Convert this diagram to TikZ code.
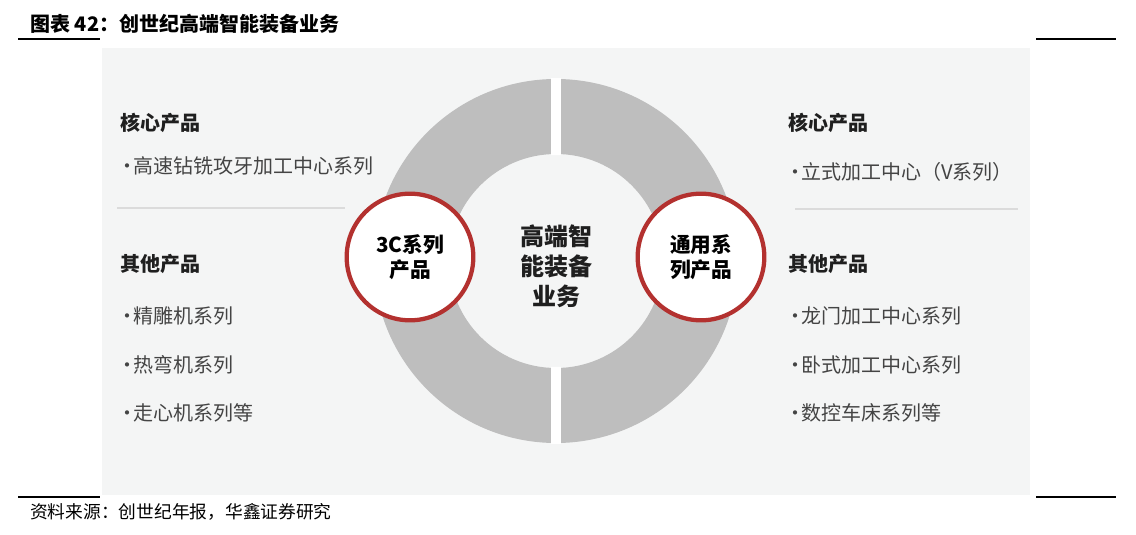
\documentclass[tikz,border=0pt]{standalone}
\usepackage{fontspec}
\setmainfont{Noto Sans CJK SC}
\usetikzlibrary{positioning}

\definecolor{panelbg}{HTML}{F4F5F5}
\definecolor{ringgray}{HTML}{BEBEBE}
\definecolor{ringred}{HTML}{B3312F}
\definecolor{itemgray}{HTML}{444444}
\newcommand{\bul}{•\kern-3pt}

\begin{document}
\begin{tikzpicture}[x=0.75pt, y=0.75pt]
    \tikzset{
        heading/.style={anchor=base west, inner xsep=0pt, font=\bfseries\fontsize{15}{18}\selectfont, text=black!88},
        item/.style={anchor=base west, inner xsep=0pt, font=\fontsize{15}{18}\selectfont, text=itemgray},
        badge/.style={circle, draw=ringred, line width=3.2pt, fill=white, minimum size=95pt, inner sep=0pt, align=center, font=\bfseries\fontsize{15.5}{18.5}\selectfont},
        sep/.style={draw=black!14, line width=0.8pt},
        frame/.style={draw=black, line width=0.8pt}
    }
    \useasboundingbox (0,0) rectangle (1136,-535);

    % title and frame lines
    \node[anchor=base west, inner xsep=0pt, font=\bfseries\fontsize{15}{18}\selectfont] (title) at (30,-32) {图表 42：创世纪高端智能装备业务};
    \draw[frame] (18,-39) -- (100,-39);
    \draw[frame] (1036,-39) -- (1116,-39);
    \draw[frame] (18,-497) -- (100,-497);
    \draw[frame] (1036,-497) -- (1116,-497);

    % panel
    \fill[panelbg] (102,-48) rectangle (1030,-495);

    % ring with gaps
    \coordinate (hub) at (556,-261);
    \fill[ringgray, even odd rule] (hub) circle (182) (hub) circle (107);
    \begin{scope}[even odd rule]
        \clip (hub) circle (183) (hub) circle (106);
        \fill[white] (551,-60) rectangle (561,-470);
    \end{scope}

    \node[align=center, font=\bfseries\fontsize{18}{22.5}\selectfont, text=black!88] (core) at (556,-266) {高端智\\能装备\\业务};
    \node[badge] (c3c) at (410,-257) {3C系列\\产品};
    \node[badge] (cgen) at (701,-257) {通用系\\列产品};

    % left column
    \node[heading] (lcore) at (120,-131) {核心产品};
    \node[item] (l1) at (117,-173) {\bul 高速钻铣攻牙加工中心系列};
    \draw[sep] (117,-208) -- (345,-208);
    \node[heading] (lother) at (120,-271) {其他产品};
    \node[item] (l2) at (117,-323) {\bul 精雕机系列};
    \node[item] (l3) at (117,-372) {\bul 热弯机系列};
    \node[item] (l4) at (117,-420) {\bul 走心机系列等};

    % right column
    \node[heading] (rcore) at (788,-131) {核心产品};
    \node[item] (r1) at (785,-179) {\bul 立式加工中心（V系列）};
    \draw[sep] (795,-209) -- (1018,-209);
    \node[heading] (rother) at (788,-271) {其他产品};
    \node[item] (r2) at (785,-323) {\bul 龙门加工中心系列};
    \node[item] (r3) at (785,-372) {\bul 卧式加工中心系列};
    \node[item] (r4) at (785,-420) {\bul 数控车床系列等};

    % source
    \node[anchor=base west, inner xsep=0pt, font=\fontsize{13.3}{15}\selectfont] (source) at (30,-518) {资料来源：创世纪年报，华鑫证券研究};
\end{tikzpicture}
\end{document}
